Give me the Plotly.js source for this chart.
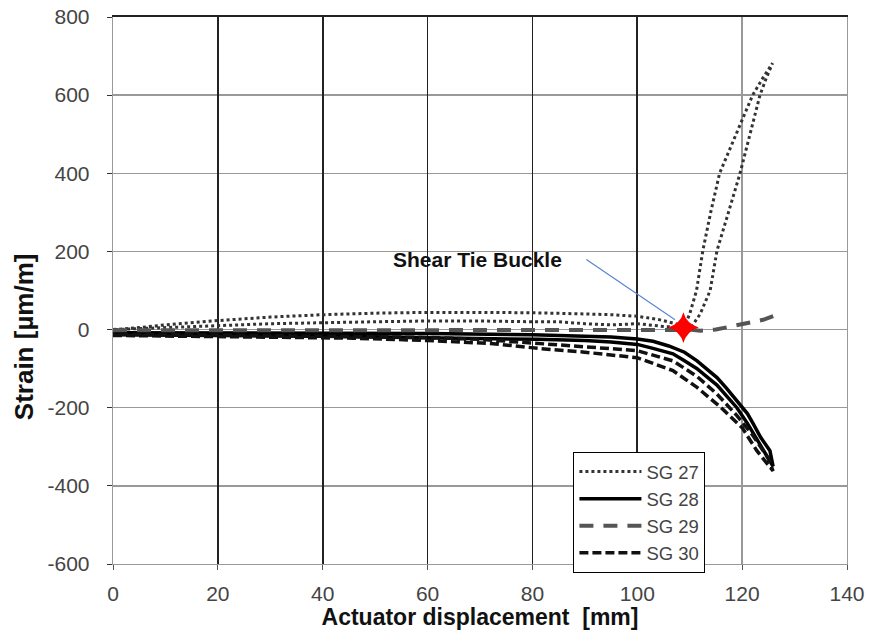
<!DOCTYPE html>
<html>
<head>
<meta charset="utf-8">
<script src="https://cdn.plot.ly/plotly-3.0.1.min.js"></script>
<style>html,body{margin:0;padding:0;background:#fff;}#chart{width:872px;height:644px;}</style>
</head>
<body>
<div id="chart"></div>
<script>
// Data
const seriesNames = ["SG 27", "SG 28", "SG 29", "SG 30"];

const sg27X = [0,5,10,15,20,30,40,50,60,70,80,90,95,100,104,107,109,
  110,111.3,112.5,114,115.7,118,120,122,124,125.8,
  124.5,123.4,121.5,119.6,117.5,115.2,113.9,112,110.5,109,
  105,100,95,90,85,80,70,60,50,40,30,20,10,0];
const sg27Y = [0,5,12,18,23,32,38,42,44,44,43,40,38,34,26,16,8,
  40,100,202,300,400,473,536,600,645,682,
  640,600,500,400,305,202,100,40,10,5,
  8,15,12,15,20,20,22,22,20,17,15,10,5,0];

const sg28X = [0,10,20,40,60,80,90,95,100,103,106,109,111.4,113,115.2,117,119,121,122.1,123.5,125.3,125.9,
  125,123,121,119,117,115.2,113,111.4,109,106.8,103,100,95,90,81,60,40,20,0];
const sg28Y = [-8,-8,-8,-9,-10,-13,-16,-19,-24,-30,-42,-58,-80,-98,-123,-150,-182,-215,-241,-275,-310,-350,
  -330,-285,-240,-200,-170,-142,-118,-100,-80,-62,-48,-38,-32,-28,-25,-20,-17,-15,-13];

const sg29X = [0,20,40,60,80,100,108,110,112,115,117.7,121.5,124,126];
const sg29Y = [-2,-2,-3,-3,-3,-2,-1,0,-3,0,8,18,25,35];

const sg30X = [0,10,20,30,45.8,60,72.5,81,90,100,106.8,111.4,116,120,122.8,125.9,
  125,122,119,115.2,111.4,106.8,100,90,81,70,60,40,20,0];
const sg30Y = [-15,-17,-18,-19,-22,-28,-36,-48,-58,-72,-105,-148,-200,-251,-310,-362,
  -330,-270,-220,-165,-120,-80,-54,-44,-36,-25,-20,-16,-14,-12];

const starX = [108.8];
const starY = [5];

const xTickVals = [0,20,40,60,80,100,120,140];
const yTickVals = [-600,-400,-200,0,200,400,600,800];
const darkGridX = [20,40,60,80,100];

const FONT = "Liberation Sans, Arial, sans-serif";

const traces = [
  {x: sg27X, y: sg27Y, name: seriesNames[0], mode: "lines", legendgroup: "a",
   line: {color: "#333", width: 3, dash: "3px,3px"}},
  {x: sg28X, y: sg28Y, name: seriesNames[1], mode: "lines", legendgroup: "a",
   line: {color: "#000", width: 3.5}},
  {x: sg29X, y: sg29Y, name: seriesNames[2], mode: "lines", legendgroup: "a",
   line: {color: "#555", width: 4, dash: "14px,10px"}},
  {x: sg30X, y: sg30Y, name: seriesNames[3], mode: "lines", legendgroup: "a",
   line: {color: "#111", width: 3.5, dash: "9px,4px"}},
  {x: starX, y: starY, xaxis: "x2", mode: "markers", showlegend: false,
   marker: {symbol: "star-diamond", size: 22, color: "#ff0000", line: {width: 0}}}
];

const layout = {
  width: 872, height: 644,
  margin: {l: 113, r: 25, t: 17, b: 80},
  paper_bgcolor: "#fff", plot_bgcolor: "#fff",
  font: {family: FONT, size: 21, color: "#444"},
  showlegend: true,
  legend: {
    x: 0.627, y: 0.205, xanchor: "left", yanchor: "top",
    bgcolor: "#fff", bordercolor: "#000", borderwidth: 1.2,
    font: {family: FONT, size: 18.5, color: "#444"},
    tracegroupgap: 0, itemwidth: 62
  },
  xaxis: {
    range: [0, 140], tickvals: xTickVals, ticktext: xTickVals.map(String),
    showgrid: true, gridcolor: "#999", gridwidth: 1.3,
    zeroline: false, showline: true, linecolor: "#999", linewidth: 1.3, mirror: true,
    ticks: "outside", ticklen: 5, tickcolor: "#555",
    ticklabelstandoff: 5,
    tickfont: {family: FONT, size: 21, color: "#444"},
    title: {text: "Actuator displacement  [mm]", font: {family: FONT, size: 23, color: "#111", weight: "bold"}, standoff: 3},
    automargin: false,
    fixedrange: true
  },
  xaxis2: {
    overlaying: "x", side: "top", anchor: "y",
    range: [0, 140], tickvals: darkGridX, showticklabels: false,
    showgrid: true, gridcolor: "#222", gridwidth: 1.6,
    zeroline: false, showline: true, linecolor: "#222", linewidth: 2,
    ticks: "", fixedrange: true
  },
  yaxis: {
    range: [-600, 800], tickvals: yTickVals, ticktext: yTickVals.map(String),
    showgrid: true, gridcolor: "#999", gridwidth: 1.3,
    zeroline: false, showline: true, linecolor: "#999", linewidth: 1.3, mirror: true,
    ticks: "outside", ticklen: 5, tickcolor: "#333",
    ticklabelstandoff: 13,
    tickfont: {family: FONT, size: 21, color: "#444"},
    automargin: false,
    fixedrange: true
  },
  annotations: [
    {xref: "paper", yref: "paper", x: -0.121, y: 0.415, xanchor: "center", yanchor: "middle",
     text: "Strain [µm/m]", textangle: -90, showarrow: false,
     font: {family: FONT, size: 26, color: "#111", weight: "bold"}},
    {xref: "x", yref: "y", x: 69.6, y: 180, text: "Shear Tie Buckle", showarrow: false,
     font: {family: FONT, size: 21, color: "#111", weight: "bold"}},
    {xref: "x", yref: "y", x: 107.2, y: 25, axref: "x", ayref: "y", ax: 90.0, ay: 182,
     text: "", showarrow: true, arrowhead: 0, arrowwidth: 1.2, arrowcolor: "#5a86d0", standoff: 0, startstandoff: 0}
  ]
};

Plotly.newPlot("chart", traces, layout, {staticPlot: true, displayModeBar: false});
</script>
</body>
</html>
